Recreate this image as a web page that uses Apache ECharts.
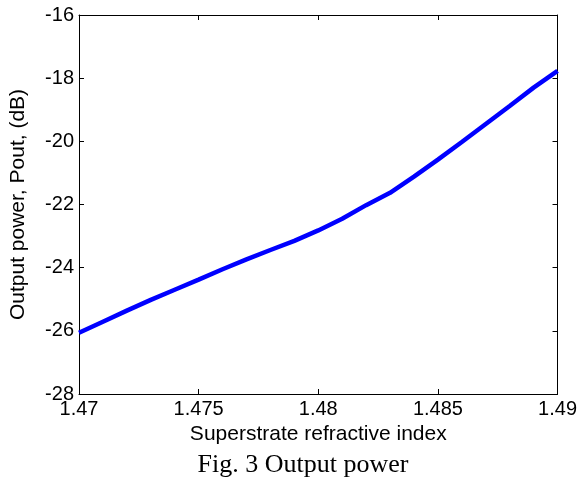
<!DOCTYPE html>
<html>
<head>
<meta charset="utf-8">
<script src="https://cdn.jsdelivr.net/npm/echarts@6/dist/echarts.min.js"></script>
<style>html,body{margin:0;padding:0;background:#fff;}#c{width:580px;height:481px;}</style>
</head>
<body>
<div id="c"></div>
<script>
var refractiveIndex = [1.470,1.471,1.472,1.473,1.474,1.475,1.476,1.477,1.478,1.479,1.480,1.481,1.482,1.483,1.484,1.485,1.486,1.487,1.488,1.489,1.490];
var outputPower = [-26.06,-25.71,-25.36,-25.02,-24.70,-24.38,-24.05,-23.74,-23.44,-23.15,-22.82,-22.45,-22.02,-21.63,-21.12,-20.58,-20.02,-19.45,-18.88,-18.30,-17.77];
var xTicks = [1.47, 1.475, 1.48, 1.485, 1.49];
var yTicks = [-28, -26, -24, -22, -20, -18, -16];
var xTitle = 'Superstrate refractive index';
var yTitle = 'Output power, Pout, (dB)';
var caption = 'Fig. 3 Output power';

var data = refractiveIndex.map(function(x, i){ return [x, outputPower[i]]; });
var font = 'Liberation Sans, Arial, sans-serif';
var chart = echarts.init(document.getElementById('c'), null, {renderer:'canvas'});
function fmtX(v){ return String(parseFloat(v.toFixed(3))); }
var axLine = {show:true, lineStyle:{color:'#000', width:1}};
chart.setOption({
  animation:false,
  backgroundColor:'#fff',
  grid:{left:72, right:22, top:15, bottom:87},
  xAxis:[{
    type:'value', min:xTicks[0], max:xTicks[xTicks.length-1], interval:0.005,
    axisLine:axLine, axisTick:{show:true, inside:true, length:5, lineStyle:{color:'#000'}},
    axisLabel:{color:'#000', fontSize:20, fontFamily:font, margin:5, formatter:fmtX},
    splitLine:{show:false},
    name:xTitle, nameLocation:'middle', nameGap:29,
    nameTextStyle:{color:'#000', fontSize:21, fontFamily:font}
  },{
    type:'value', position:'top', min:xTicks[0], max:xTicks[xTicks.length-1], interval:0.005,
    axisLine:axLine, axisTick:{show:true, inside:true, length:5, lineStyle:{color:'#000'}},
    axisLabel:{show:false}, splitLine:{show:false}
  }],
  yAxis:[{
    type:'value', min:yTicks[0], max:yTicks[yTicks.length-1], interval:2,
    axisLine:axLine, axisTick:{show:true, inside:true, length:5, lineStyle:{color:'#000'}},
    axisLabel:{color:'#000', fontSize:20, fontFamily:font, margin:5},
    splitLine:{show:false},
    name:yTitle, nameLocation:'middle', nameGap:50,
    nameTextStyle:{color:'#000', fontSize:21, fontFamily:font}
  },{
    type:'value', position:'right', min:yTicks[0], max:yTicks[yTicks.length-1], interval:2,
    axisLine:axLine, axisTick:{show:true, inside:true, length:5, lineStyle:{color:'#000'}},
    axisLabel:{show:false}, splitLine:{show:false}
  }],
  series:[{
    type:'line', data:data, showSymbol:false, symbol:'none',
    lineStyle:{color:'#0000ff', width:4.5}, xAxisIndex:0, yAxisIndex:0
  }],
  graphic:[{
    type:'text', x:303, y:465,
    style:{text:caption, font:'26px "Liberation Serif", "Times New Roman", serif', fill:'#000', textAlign:'center', textVerticalAlign:'middle'}
  }]
});
</script>
</body>
</html>
